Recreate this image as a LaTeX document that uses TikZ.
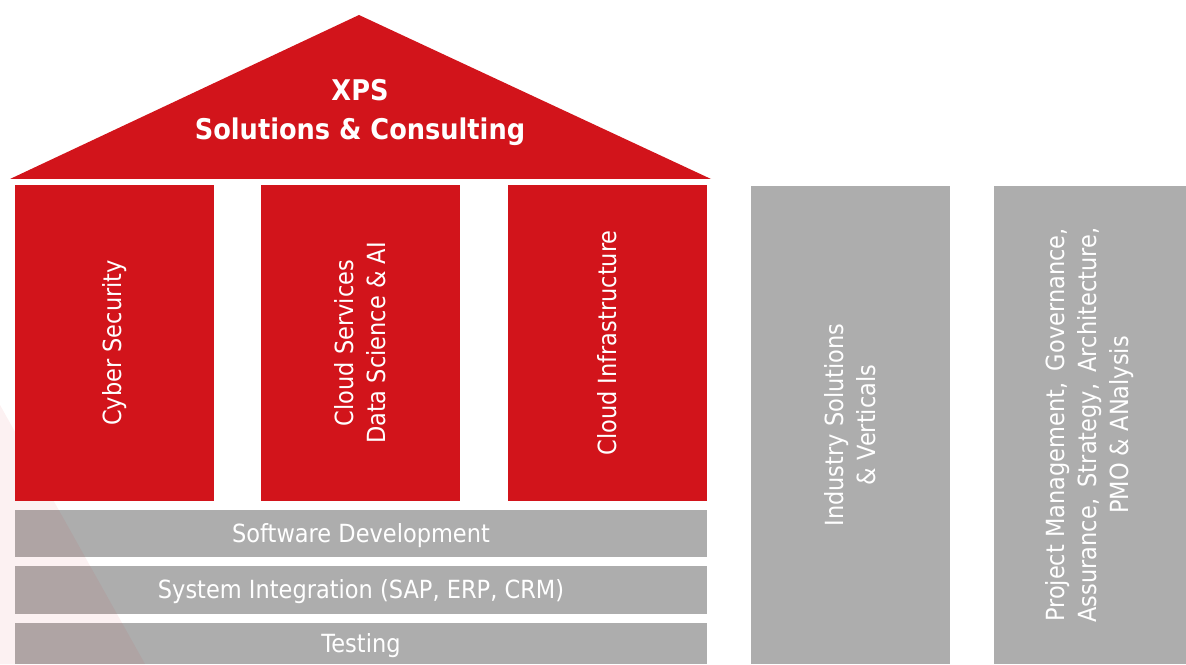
\documentclass[tikz,border=0pt]{standalone}
\usepackage{fontspec}
\setmainfont{DejaVu Sans}[FakeStretch=0.9]
\definecolor{xpsred}{RGB}{210,20,27}
\definecolor{xpsgray}{RGB}{173,173,173}

\begin{document}
\begin{tikzpicture}[x=1pt,y=1pt]
        \tikzstyle{block}=[inner sep=0pt, text=white, font=\fontsize{25}{32}\selectfont, align=center]
        \tikzstyle{pillar}=[block, fill=xpsred, rotate=90, minimum width=316pt, minimum height=199pt]
        \tikzstyle{layer}=[block, fill=xpsgray, minimum width=692pt, text height=22pt, text depth=4pt]
        \tikzstyle{column}=[block, fill=xpsgray, rotate=90, minimum width=478pt]
        \useasboundingbox (0,0) rectangle (1186,664);
        \fill[xpsred] (10,485) -- (359,649) -- (711,485) -- cycle;
        \node[block, font=\bfseries\fontsize{28.5}{39}\selectfont] (roof) at (360,551) {XPS\\Solutions \& Consulting};
        \node[pillar] (cyber) at (114.5,321) {Cyber Security};
        \node[pillar] (cloud) at (360.5,321) {Cloud Services\\Data Science \& AI};
        \node[pillar] (infra) at (607.5,321) {Cloud Infrastructure};
        \node[layer, minimum height=47pt] (swdev) at (361,130.5) {Software Development};
        \node[layer, minimum height=48pt] (sysint) at (361,74) {System Integration (SAP, ERP, CRM)};
        \node[layer, minimum height=41pt] (testing) at (361,20.5) {Testing};
        \node[column, minimum height=199pt] (industry) at (850.5,239) {Industry Solutions\\\& Verticals};
        \node[column, minimum height=192pt] (pmo) at (1090,239) {Project Management,\, Governance,\\Assurance,\, Strategy,\, Architecture,\\PMO \& ANalysis};
        \fill[xpsred, opacity=0.06] (0,259) -- (145,0) -- (0,0) -- cycle;
\end{tikzpicture}
\end{document}
